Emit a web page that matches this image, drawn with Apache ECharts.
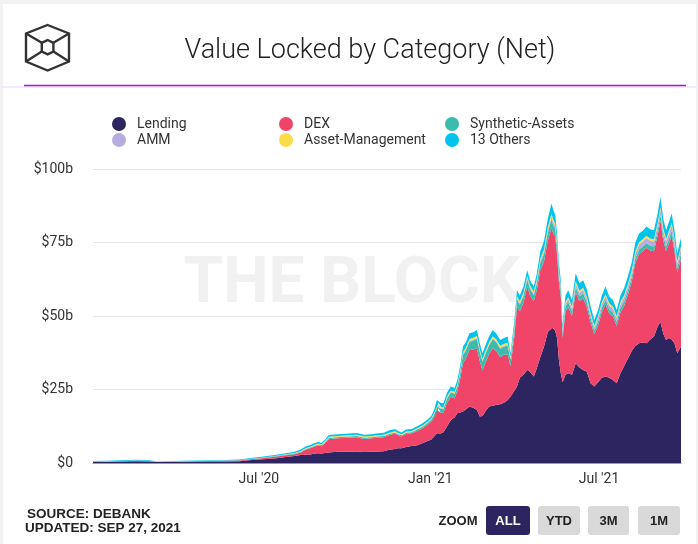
<!DOCTYPE html>
<html><head><meta charset="utf-8">
<script src="https://cdn.jsdelivr.net/npm/echarts@6/dist/echarts.min.js"></script>
<style>html,body{margin:0;padding:0;background:#fff;}#c{width:698px;height:544px;}</style>
</head><body><div id="c"></div>
<script>
const dates = ['2020-01-05','2020-01-20','2020-02-05','2020-02-20','2020-03-05','2020-03-13','2020-03-25','2020-04-10','2020-04-25','2020-05-10','2020-05-25','2020-06-10',
'2020-06-20','2020-07-01','2020-07-10','2020-07-20','2020-07-30','2020-08-08','2020-08-15','2020-08-20','2020-08-25','2020-08-30','2020-09-03','2020-09-06',
'2020-09-10','2020-09-14','2020-09-20','2020-09-28','2020-10-06','2020-10-14','2020-10-22','2020-10-30','2020-11-06','2020-11-12','2020-11-18','2020-11-24','2020-11-27','2020-12-01','2020-12-06','2020-12-12','2020-12-18','2020-12-24','2020-12-29',
'2021-01-02','2021-01-05','2021-01-08','2021-01-10','2021-01-12','2021-01-15','2021-01-19','2021-01-23','2021-01-27','2021-01-30','2021-02-02','2021-02-05','2021-02-08','2021-02-12','2021-02-16','2021-02-20','2021-02-23','2021-02-26','2021-03-01','2021-03-05','2021-03-09','2021-03-13','2021-03-17','2021-03-21','2021-03-25','2021-03-28',
'2021-04-01','2021-04-04','2021-04-07','2021-04-11','2021-04-15','2021-04-18','2021-04-22','2021-04-25','2021-04-29','2021-05-03','2021-05-07','2021-05-11','2021-05-13','2021-05-15','2021-05-17','2021-05-19','2021-05-21','2021-05-23','2021-05-26','2021-05-29',
'2021-06-02','2021-06-06','2021-06-10','2021-06-14','2021-06-18','2021-06-22','2021-06-26','2021-06-30','2021-07-04','2021-07-08','2021-07-12','2021-07-16','2021-07-20','2021-07-24','2021-07-28','2021-08-01','2021-08-05','2021-08-09','2021-08-13','2021-08-17','2021-08-21','2021-08-25','2021-08-29','2021-09-02','2021-09-05','2021-09-08','2021-09-11','2021-09-14','2021-09-17','2021-09-20','2021-09-23','2021-09-25','2021-09-27'];

const lending = [0.4,0.45,0.5,0.6,0.55,0.3,0.35,0.4,0.45,0.5,0.55,0.6,
0.95,1.2,1.4,1.6,2.0,2.4,2.7,2.8,2.9,3.2,3.3,3.2,
3.4,3.6,3.7,3.9,3.8,3.9,3.7,3.8,3.9,4.0,4.5,4.8,5.0,5.0,5.4,5.8,6.0,6.8,7.5,
8.0,9.0,10.1,10.4,10.0,10.5,12.5,14.6,15.5,16.9,17.2,17.5,18.2,19.2,18.8,18.0,15.8,16.0,17.5,19.2,19.5,19.8,20.0,20.5,21.4,22.5,
24.5,26.0,29.0,30.0,31.6,31.0,29.4,32.0,36.0,39.6,44.5,46.5,46.0,45.0,42.5,35.0,30.5,27.5,30.0,30.5,
30.0,33.9,32.5,31.6,31.0,27.1,26.0,27.5,29.0,29.4,29.0,28.2,27.1,30.5,33.0,35.5,38.0,39.8,40.7,41.0,40.7,42.0,43.0,46.5,48.0,44.0,41.8,42.5,42.0,40.7,37.3,38.5,39.6];

const dex = [0.1,0.1,0.1,0.15,0.15,0.1,0.1,0.15,0.15,0.2,0.2,0.25,
0.25,0.3,0.4,0.6,0.6,0.6,0.9,1.7,2.1,2.4,2.7,2.5,
3.3,4.5,4.6,4.6,4.8,4.9,4.5,4.6,4.7,4.8,5.0,5.2,4.5,4.0,4.5,4.3,4.9,5.1,5.5,
6.0,6.5,7.9,8.2,7.2,6.5,8.0,7.9,6.5,7.6,11.3,16.4,17.3,19.2,19.8,21.0,19.0,15.5,16.5,17.8,19.5,18.2,16.0,16.3,15.6,10.5,
18.0,27.2,22.5,24.5,28.4,26.0,25.6,26.5,29.5,28.9,31.0,33.5,32.0,32.0,28.5,26.5,26.0,15.0,21.5,22.5,
20.0,24.1,22.5,24.4,22.0,20.7,17.8,19.3,22.3,24.6,21.8,21.6,19.5,20.7,20.5,21.7,23.5,28.2,30.3,31.0,32.5,30.3,29.0,31.0,34.5,31.5,30.2,32.1,35.3,31.3,27.5,28.7,29.9];

const synthetic = [0.05,0.05,0.05,0.05,0.05,0.05,0.05,0.05,0.05,0.05,0.05,0.05,
0.1,0.12,0.15,0.15,0.2,0.2,0.25,0.25,0.25,0.3,0.3,0.3,
0.4,0.4,0.4,0.4,0.4,0.4,0.4,0.4,0.4,0.4,0.4,0.4,0.4,0.4,0.4,0.4,0.5,0.5,0.6,
0.7,0.9,1.3,1.3,1.3,1.3,1.4,1.5,1.5,1.6,2.0,2.8,2.7,2.8,3.0,3.2,3.0,3.0,3.0,3.0,3.1,3.0,2.9,2.8,2.9,2.2,
2.3,2.3,2.3,2.3,2.4,2.2,2.1,2.3,2.5,2.6,2.7,2.8,2.8,2.7,2.5,2.3,2.0,1.6,1.8,1.8,
1.6,1.8,1.7,1.7,1.6,1.5,1.3,1.4,1.5,1.5,1.5,1.4,1.4,1.5,1.5,1.5,1.6,1.6,1.6,1.6,1.6,1.6,1.6,1.7,1.8,1.7,1.6,1.6,1.7,1.6,1.5,1.5,1.6];

const amm = [0.02,0.02,0.02,0.02,0.02,0.02,0.02,0.02,0.02,0.02,0.02,0.02,
0.03,0.03,0.05,0.05,0.05,0.05,0.05,0.05,0.05,0.05,0.05,0.05,
0.1,0.1,0.1,0.1,0.1,0.1,0.1,0.1,0.1,0.1,0.1,0.1,0.1,0.1,0.1,0.1,0.1,0.1,0.1,
0.15,0.15,0.2,0.2,0.2,0.2,0.2,0.2,0.2,0.2,0.25,0.3,0.3,0.3,0.3,0.3,0.3,0.3,0.3,0.3,0.3,0.3,0.3,0.3,0.3,0.3,
0.5,0.5,0.5,0.5,0.5,0.5,0.5,0.6,0.7,0.8,0.9,1.0,1.0,0.9,0.9,0.8,0.8,0.7,0.8,0.9,
1.0,1.2,1.2,1.2,1.2,1.1,1.0,1.1,1.2,1.3,1.3,1.3,1.3,1.4,1.4,1.5,1.5,1.6,1.7,1.7,1.7,1.7,1.7,1.8,1.9,1.8,1.8,1.8,1.9,1.8,1.6,1.7,1.7];

const assetMgmt = [0.03,0.03,0.03,0.03,0.03,0.03,0.03,0.03,0.03,0.03,0.03,0.03,
0.05,0.05,0.08,0.1,0.1,0.15,0.2,0.25,0.25,0.3,0.3,0.25,
0.3,0.3,0.3,0.3,0.3,0.3,0.3,0.3,0.3,0.3,0.3,0.3,0.3,0.3,0.3,0.3,0.3,0.3,0.3,
0.35,0.4,0.5,0.5,0.5,0.5,0.5,0.5,0.5,0.5,0.6,0.7,0.7,0.7,0.7,0.7,0.7,0.6,0.7,0.7,0.7,0.7,0.7,0.7,0.7,0.6,
0.7,0.7,0.7,0.7,0.7,0.7,0.7,0.7,0.8,0.8,0.9,1.0,1.0,0.9,0.9,0.8,0.7,0.6,0.7,0.7,
0.7,0.8,0.7,0.7,0.7,0.6,0.6,0.6,0.7,0.7,0.7,0.7,0.6,0.7,0.7,0.7,0.7,0.8,0.8,0.8,0.8,0.8,0.8,0.8,0.9,0.8,0.8,0.8,0.8,0.8,0.7,0.7,0.8];

const others = [0.1,0.15,0.2,0.25,0.2,0.05,0.05,0.1,0.15,0.15,0.15,0.25,
0.22,0.3,0.32,0.3,0.35,0.4,0.5,0.55,0.55,0.55,0.55,0.5,
0.5,0.6,0.6,0.6,0.6,0.6,0.6,0.6,0.7,0.7,0.8,0.8,0.7,0.6,0.7,0.7,0.7,0.8,0.8,
0.8,1.05,1.4,1.4,1.3,1.3,1.4,1.3,1.3,1.4,1.65,1.9,1.8,1.9,1.9,2.0,1.9,1.9,2.0,2.0,2.1,2.0,1.9,1.9,2.1,1.2,
2.0,2.1,2.0,2.0,2.0,1.8,1.7,1.9,2.5,2.8,3.0,3.5,3.2,3.0,2.7,2.6,2.2,1.6,2.2,2.4,
2.1,2.7,2.5,2.6,2.5,2.2,1.9,2.1,2.3,2.5,2.3,2.2,2.1,2.2,2.4,2.6,2.7,3.0,3.0,2.9,3.1,3.1,3.1,3.2,3.4,3.2,3.0,3.2,3.2,3.0,2.7,2.9,2.9];

const seriesNames = ['Lending','DEX','Synthetic-Assets','AMM','Asset-Management','13 Others'];
const seriesColors = ['#2c2560','#f04469','#3bbcac','#b6ace0','#fcdc4a','#00c3ee'];
const seriesValues = [lending, dex, synthetic, amm, assetMgmt, others];

const xMin = '2020-01-05';
const xMax = '2021-09-27';
const xTickDates = ['2020-07-01','2021-01-01','2021-07-01'];
const xTickLabels = ["Jul '20","Jan '21","Jul '21"];
const yTicks = [0,25,50,75,100];
const yTickLabels = ['$0','$25b','$50b','$75b','$100b'];

const ts = d => echarts.time.parse(d).getTime();
const chart = echarts.init(document.getElementById('c'), null, {renderer:'canvas'});
const tickTimes = xTickDates.map(ts);

const legendCols = [[0,3],[1,4],[2,5]];
const legendLefts = [107,274,440];
const legends = legendCols.map((col, i) => ({
  orient:'vertical', left: legendLefts[i], top: 112,
  data: col.map(k => seriesNames[k]),
  icon:'circle', itemWidth:26, itemHeight:14, itemGap:2,
  selectedMode:false,
  textStyle:{fontFamily:'Roboto', fontSize:14, color:'#333', padding:0}
}));

const series = seriesNames.map((n, k) => ({
  name:n, type:'line', stack:'total', symbol:'none', showSymbol:false,
  lineStyle:{width:0}, itemStyle:{color:seriesColors[k]},
  areaStyle:{color:seriesColors[k], opacity:1},
  emphasis:{disabled:true}, silent:true,
  data: dates.map((d,i) => [d, seriesValues[k][i]])
}));

const grayEdge = '#f2f2f2';
const graphic = [
  {type:'rect', shape:{x:0,y:0,width:698,height:4}, style:{fill:grayEdge}},
  {type:'rect', shape:{x:0,y:0,width:3,height:544}, style:{fill:grayEdge}},
  {type:'rect', shape:{x:696,y:0,width:2,height:544}, style:{fill:grayEdge}},
  {type:'text', z:1, style:{x:352, y:286, text:'THE BLOCK', fill:'#f1f1f1', font:'bold 64px Roboto', textAlign:'center', textVerticalAlign:'middle'}},
  {type:'polygon', shape:{points:[[47.6,25],[69,33.5],[69,61.5],[47.6,70.5],[26,61.5],[26,33.5]]}, style:{fill:'none', stroke:'#333', lineWidth:2.4}},
  {type:'polygon', shape:{points:[[47.6,40],[53.4,42.8],[53.4,51.6],[47.6,54.4],[41.8,51.6],[41.8,42.8]]}, style:{fill:'none', stroke:'#333', lineWidth:2.4}},
  {type:'line', shape:{x1:26,y1:33.5,x2:41.8,y2:42.8}, style:{stroke:'#333', lineWidth:2.4}},
  {type:'line', shape:{x1:69,y1:33.5,x2:53.4,y2:42.8}, style:{stroke:'#333', lineWidth:2.4}},
  {type:'line', shape:{x1:26,y1:61.5,x2:41.8,y2:51.6}, style:{stroke:'#333', lineWidth:2.4}},
  {type:'line', shape:{x1:69,y1:61.5,x2:53.4,y2:51.6}, style:{stroke:'#333', lineWidth:2.4}},
  {type:'text', style:{x:370, y:51, text:'Value Locked by Category (Net)', fill:'#222', font:'300 27px Roboto', textAlign:'center', textVerticalAlign:'middle'}},
  {type:'line', shape:{x1:3,y1:87,x2:696,y2:87}, style:{stroke:'#ecd3fb', lineWidth:1}},
  {type:'line', shape:{x1:24,y1:85.5,x2:686,y2:85.5}, style:{stroke:'#a515e8', lineWidth:1.5}},
  {type:'text', style:{x:27, y:514, text:'SOURCE: DEBANK', fill:'#222', font:'bold 13.5px "Liberation Sans"', textVerticalAlign:'middle'}},
  {type:'text', style:{x:25, y:528, text:'UPDATED: SEP 27, 2021', fill:'#222', font:'bold 13.5px "Liberation Sans"', textVerticalAlign:'middle'}},
  {type:'text', style:{x:458, y:521, text:'ZOOM', fill:'#222', font:'bold 13px "Liberation Sans"', textAlign:'center', textVerticalAlign:'middle'}},
  {type:'rect', shape:{x:486,y:506,width:44,height:29,r:3}, style:{fill:'#2c2560'}},
  {type:'text', style:{x:508, y:521, text:'ALL', fill:'#fff', font:'bold 13px "Liberation Sans"', textAlign:'center', textVerticalAlign:'middle'}},
  {type:'rect', shape:{x:538,y:506,width:42,height:29,r:3}, style:{fill:'#d9d9d9'}},
  {type:'text', style:{x:559, y:521, text:'YTD', fill:'#222', font:'bold 13px "Liberation Sans"', textAlign:'center', textVerticalAlign:'middle'}},
  {type:'rect', shape:{x:588,y:506,width:41,height:29,r:3}, style:{fill:'#d9d9d9'}},
  {type:'text', style:{x:608.5, y:521, text:'3M', fill:'#222', font:'bold 13px "Liberation Sans"', textAlign:'center', textVerticalAlign:'middle'}},
  {type:'rect', shape:{x:638,y:506,width:42,height:29,r:3}, style:{fill:'#d9d9d9'}},
  {type:'text', style:{x:659, y:521, text:'1M', fill:'#222', font:'bold 13px "Liberation Sans"', textAlign:'center', textVerticalAlign:'middle'}}
];

chart.setOption({
  animation:false,
  backgroundColor:'#fff',
  legend: legends,
  grid:{left:93, right:17, top:169, bottom:81, containLabel:false, outerBoundsMode:'none'},
  xAxis:{
    type:'time', min: xMin, max: xMax, splitNumber:7,
    axisLine:{show:true, lineStyle:{color:'#9a9a9a', width:1}},
    axisTick:{show:false},
    splitLine:{show:false},
    axisLabel:{
      margin:9, fontSize:14, fontFamily:'Roboto', color:'#333', hideOverlap:false,
      showMinLabel:false, showMaxLabel:false,
      formatter: v => { const i = tickTimes.findIndex(t => Math.abs(t - v) < 864e5); return i >= 0 ? xTickLabels[i] : ''; }
    }
  },
  yAxis:{
    type:'value', min:0, max:100, interval:25,
    axisLine:{show:false}, axisTick:{show:false},
    splitLine:{lineStyle:{color:'#e6e6e6', width:1}},
    axisLabel:{margin:20, fontSize:14, fontFamily:'Roboto', color:'#333',
      formatter: v => { const i = yTicks.indexOf(v); return i >= 0 ? yTickLabels[i] : ''; }}
  },
  graphic: graphic,
  series: series
});
</script></body></html>
